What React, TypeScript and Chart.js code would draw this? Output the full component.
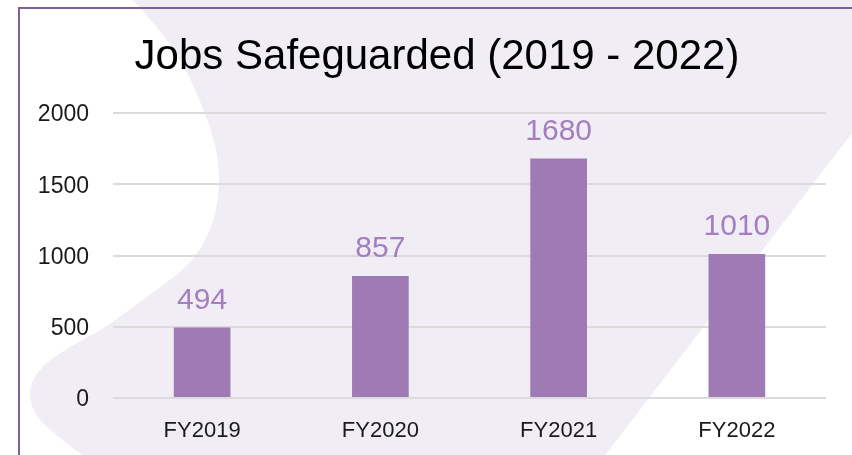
import React, { useEffect, useRef } from 'react';
import { Chart, registerables } from 'chart.js';

Chart.register(...registerables);

const categories = ['FY2019', 'FY2020', 'FY2021', 'FY2022'];
const jobsSafeguarded = [494, 857, 1680, 1010];
const yTicks = [0, 500, 1000, 1500, 2000];
const chartTitle = 'Jobs Safeguarded (2019 - 2022)';

const FONT = "'Liberation Sans', Arial, Helvetica, sans-serif";
const BAR_COLOR = '#A07AB4';
const LABEL_COLOR = '#A47FBF';
const BLOB_COLOR = '#F0EDF5';
const FRAME_COLOR = '#7D5F99';

// decorative background swoosh outline (not data)
const blobOutline: [number, number][] = [
  [133, 0], [160, 30], [182, 62], [200, 100], [214, 138], [220, 172], [217, 210],
  [205, 243], [186, 268], [163, 285], [132, 308], [103, 329], [66, 349], [42, 366],
  [30, 385], [30, 402], [38, 419], [62, 440], [86, 458],
];

const backgroundPlugin = {
  id: 'bgShape',
  beforeDraw(chart: any) {
    const ctx = chart.ctx as CanvasRenderingContext2D;
    const w = chart.width;
    const h = chart.height;
    ctx.save();
    ctx.fillStyle = '#ffffff';
    ctx.fillRect(0, 0, w, h);
    ctx.beginPath();
    ctx.moveTo(blobOutline[0][0], blobOutline[0][1]);
    for (let i = 1; i < blobOutline.length - 1; i++) {
      const [x, y] = blobOutline[i];
      const [nx, ny] = blobOutline[i + 1];
      ctx.quadraticCurveTo(x, y, (x + nx) / 2, (y + ny) / 2);
    }
    const last = blobOutline[blobOutline.length - 1];
    ctx.lineTo(last[0], last[1]);
    ctx.lineTo(603, 458);
    ctx.lineTo(w, 133);
    ctx.lineTo(w, 0);
    ctx.closePath();
    ctx.fillStyle = BLOB_COLOR;
    ctx.fill();
    ctx.strokeStyle = FRAME_COLOR;
    ctx.lineWidth = 2;
    ctx.beginPath();
    ctx.moveTo(19, h + 2);
    ctx.lineTo(19, 8);
    ctx.lineTo(w + 2, 8);
    ctx.stroke();
    ctx.restore();
  },
};

const titleShiftPlugin = {
  id: 'titleShift',
  afterLayout(chart: any) {
    const t = chart.titleBlock;
    if (t) {
      t.left = 48;
      t.right = chart.chartArea.right;
    }
  },
};

const valueLabelPlugin = {
  id: 'valueLabels',
  afterDatasetsDraw(chart: any) {
    const ctx = chart.ctx as CanvasRenderingContext2D;
    const meta = chart.getDatasetMeta(0);
    const data = chart.data.datasets[0].data as number[];
    ctx.save();
    ctx.font = `30px ${FONT}`;
    ctx.fillStyle = LABEL_COLOR;
    ctx.textAlign = 'center';
    ctx.textBaseline = 'alphabetic';
    meta.data.forEach((bar: any, i: number) => {
      ctx.fillText(String(data[i]), bar.x, bar.y - 19);
    });
    ctx.restore();
  },
};

export default function App() {
  const ref = useRef<HTMLCanvasElement>(null);

  useEffect(() => {
    document.body.style.margin = '0';
    if (!ref.current) return;
    const chart = new Chart(ref.current, {
      type: 'bar',
      data: {
        labels: categories,
        datasets: [
          {
            label: 'Jobs Safeguarded',
            data: jobsSafeguarded,
            backgroundColor: BAR_COLOR,
            borderWidth: 0,
            categoryPercentage: 1,
            barPercentage: 0.318,
          },
        ],
      },
      options: {
        responsive: false,
        animation: false,
        layout: { padding: { left: 19, right: 26, top: 0, bottom: 0 } },
        plugins: {
          legend: { display: false },
          tooltip: { enabled: false },
          title: {
            display: true,
            text: chartTitle,
            color: '#000000',
            font: { family: FONT, size: 42, weight: 'normal', lineHeight: 1.2 },
            padding: { top: 32, bottom: 30.6 },
          },
        },
        scales: {
          x: {
            grid: { display: false },
            border: { display: false },
            ticks: { color: '#1a1a1a', font: { family: FONT, size: 22 }, padding: 12 },
            afterFit: (s: any) => {
              s.height = 57;
            },
          },
          y: {
            min: 0,
            max: 2000,
            grid: { color: '#DBDBDB', lineWidth: 2, drawTicks: false },
            border: { display: false },
            ticks: {
              color: '#1a1a1a',
              font: { family: FONT, size: 23 },
              padding: 24,
              labelOffset: 2,
              callback: (v: any) => String(v),
            },
            afterBuildTicks: (s: any) => {
              s.ticks = yTicks.map((v) => ({ value: v }));
            },
            afterFit: (s: any) => {
              s.width = 94;
            },
          },
        },
      },
      plugins: [backgroundPlugin, titleShiftPlugin, valueLabelPlugin],
    });
    return () => chart.destroy();
  }, []);

  return (
    <div style={{ position: 'relative', width: 852, height: 455 }}>
      <canvas ref={ref} width={852} height={455} style={{ display: 'block' }} />
    </div>
  );
}
